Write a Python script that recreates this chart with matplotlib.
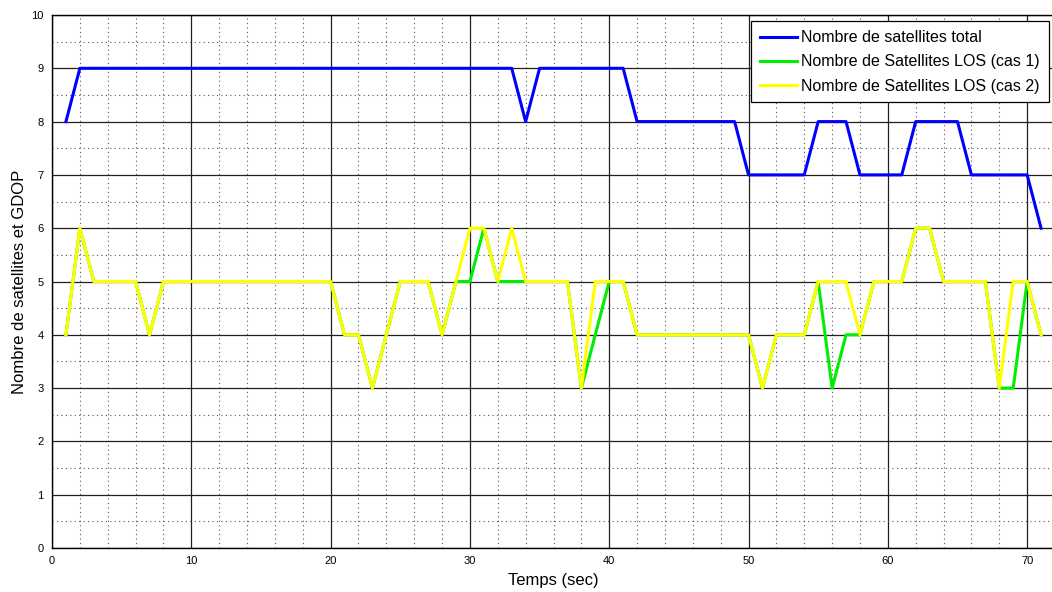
import numpy as np
import matplotlib
matplotlib.use('Agg')
import matplotlib.pyplot as plt
from matplotlib.ticker import MultipleLocator

plt.rcParams['font.family'] = ['Liberation Sans', 'DejaVu Sans']

# time axis (sec)
temps = list(range(1, 72))

# total satellites
sat_total = ([8] + [9] * 32 + [8] + [9] * 7 + [8] * 8 + [7] * 5 + [8] * 3
             + [7] * 4 + [8] * 4 + [7] * 5 + [6])

# LOS satellites, cas 2
los_cas2 = [4, 6, 5, 5, 5, 5, 4, 5, 5, 5, 5, 5, 5, 5, 5, 5, 5, 5, 5, 5,
            4, 4, 3, 4, 5, 5, 5, 4, 5, 6, 6, 5, 6, 5, 5, 5, 5, 3, 5, 5,
            5, 4, 4, 4, 4, 4, 4, 4, 4, 4, 3, 4, 4, 4, 5, 5, 5, 4, 5, 5,
            5, 6, 6, 5, 5, 5, 5, 3, 5, 5, 4]

# LOS satellites, cas 1
los_cas1 = [4, 6, 5, 5, 5, 5, 4, 5, 5, 5, 5, 5, 5, 5, 5, 5, 5, 5, 5, 5,
            4, 4, 3, 4, 5, 5, 5, 4, 5, 5, 6, 5, 5, 5, 5, 5, 5, 3, 4, 5,
            5, 4, 4, 4, 4, 4, 4, 4, 4, 4, 3, 4, 4, 4, 5, 3, 4, 4, 5, 5,
            5, 6, 6, 5, 5, 5, 5, 3, 3, 5, 4]

fig = plt.figure(figsize=(10.52, 5.92), dpi=100)
ax = fig.add_axes([52 / 1052, 44 / 592, 1003 / 1052, 533 / 592])

ax.plot(temps, sat_total, color='#0000ff', lw=2.2, label='Nombre de satellites total')
ax.plot(temps, los_cas1, color='#00ee00', lw=2.2, label='Nombre de Satellites LOS (cas 1)')
ax.plot(temps, los_cas2, color='#ffff00', lw=2.2, label='Nombre de Satellites LOS (cas 2)')

ax.set_xlim(0, 72)
ax.set_ylim(0, 10)
ax.xaxis.set_major_locator(MultipleLocator(10))
ax.xaxis.set_minor_locator(MultipleLocator(2))
ax.yaxis.set_major_locator(MultipleLocator(1))
ax.yaxis.set_minor_locator(MultipleLocator(0.5))

ax.grid(which='major', color='#202020', lw=0.9, ls='-')
ax.grid(which='minor', color='#555555', lw=0.8, ls=(0, (1, 3)))
ax.set_axisbelow(True)

ax.tick_params(which='both', direction='in', labelsize=8, length=0, pad=6)
for s in ax.spines.values():
    s.set_linewidth(1.0)
    s.set_color('black')

ax.set_xlabel('Temps (sec)', fontsize=12, labelpad=5)
ax.set_ylabel('Nombre de satellites et GDOP', fontsize=12, labelpad=3)

leg = ax.legend(loc='upper left', bbox_to_anchor=(0.697, 0.988), fontsize=11.5,
                fancybox=False, framealpha=1, edgecolor='black',
                handlelength=2.3, handletextpad=0.3, borderaxespad=0,
                labelspacing=0.58, borderpad=0.55)
leg.get_frame().set_linewidth(0.9)

fig.savefig('out.png', dpi=100)
